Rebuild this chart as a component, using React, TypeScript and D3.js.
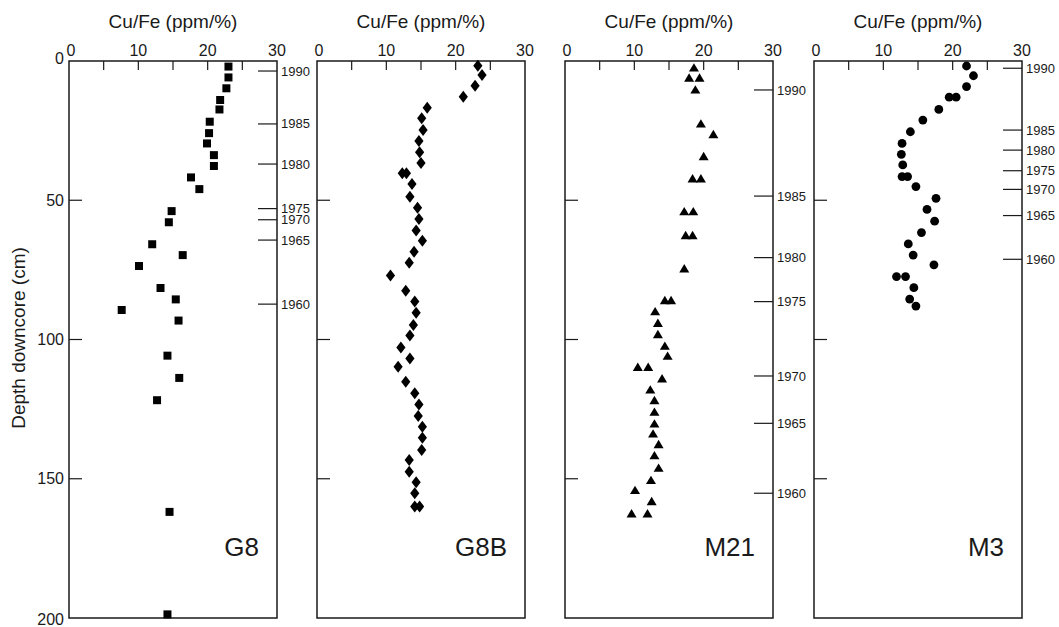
import React from "react";
import * as d3 from "d3";

// ---- Data (depth in cm, Cu/Fe in ppm/%) ----
const g8Depth = [2.0, 5.9, 9.8, 14.0, 17.4, 21.8, 25.9, 29.6, 33.8, 37.7, 41.8, 46.0, 53.9, 57.9, 65.8, 69.7, 73.6, 81.5, 85.6, 89.4, 93.2, 105.8, 113.8, 121.8, 161.9, 198.7];
const g8CuFe = [23.0, 23.0, 22.7, 21.8, 21.7, 20.3, 20.2, 19.9, 20.9, 20.9, 17.6, 18.8, 14.8, 14.4, 12.0, 16.4, 10.1, 13.2, 15.4, 7.6, 15.8, 14.2, 15.9, 12.7, 14.5, 14.2];

const g8bDepth = [1.7, 5.0, 8.9, 12.8, 16.8, 20.6, 24.8, 28.7, 32.8, 36.6, 40.3, 40.3, 44.2, 48.7, 52.7, 56.7, 60.9, 64.5, 68.5, 72.4, 77.0, 82.5, 86.4, 90.4, 94.8, 98.6, 102.9, 106.8, 109.8, 115.2, 119.3, 123.3, 127.5, 131.3, 135.3, 139.7, 143.3, 147.5, 151.3, 155.2, 160.0, 160.0];
const g8bCuFe = [23.2, 23.8, 22.8, 21.1, 15.9, 15.1, 15.3, 14.7, 14.8, 15.0, 12.3, 12.9, 13.7, 13.4, 14.5, 14.7, 14.3, 15.2, 14.0, 13.3, 10.6, 12.8, 14.1, 14.3, 13.9, 13.4, 12.1, 13.4, 11.7, 12.8, 14.1, 14.7, 14.6, 15.2, 15.2, 15.1, 13.3, 13.3, 14.3, 14.1, 14.1, 14.8];

const m21Depth = [2.3, 5.9, 5.9, 10.2, 22.4, 26.2, 34.1, 42.1, 42.1, 53.9, 53.9, 62.5, 62.5, 74.4, 85.8, 85.8, 89.8, 94.0, 98.0, 102.2, 105.8, 109.8, 109.8, 113.9, 117.9, 121.7, 125.9, 130.1, 133.7, 137.5, 141.5, 146.0, 150.4, 154.0, 158.0, 162.4, 162.4];
const m21CuFe = [18.6, 17.9, 19.4, 18.8, 19.6, 21.4, 20.0, 18.4, 19.6, 17.2, 18.5, 17.4, 18.4, 17.2, 14.4, 15.3, 13.0, 13.4, 13.4, 14.4, 14.8, 10.5, 12.0, 14.0, 12.3, 12.9, 12.9, 12.9, 12.7, 13.5, 12.9, 13.5, 12.4, 10.1, 12.5, 9.6, 11.9];

const m3Depth = [1.8, 5.3, 9.2, 13.0, 13.0, 17.4, 21.2, 25.4, 29.6, 33.5, 37.3, 41.5, 41.5, 45.1, 49.3, 53.3, 57.5, 61.6, 65.7, 69.7, 73.2, 77.4, 77.4, 81.4, 85.5, 88.0];
const m3CuFe = [22.0, 23.0, 22.0, 19.5, 20.5, 18.0, 15.7, 13.9, 12.7, 12.6, 12.8, 12.7, 13.5, 14.7, 17.6, 16.3, 17.4, 15.5, 13.6, 14.3, 17.3, 11.9, 13.2, 14.4, 13.8, 14.7];

// ---- Year (dating) markers ----
const years = [1990, 1985, 1980, 1975, 1970, 1965, 1960];
const g8YearDepth = [3.6, 22.6, 37.0, 53.0, 57.0, 64.3, 87.3];
const m21YearDepth = [10.4, 48.5, 70.6, 86.4, 113.1, 130.1, 155.2];
const m3YearDepth = [2.6, 24.8, 32.0, 39.4, 46.1, 55.5, 71.2];

// ---- Axis ticks ----
const xTickLabels = [0, 10, 20, 30];
const xMinorTicks = [5, 10, 15, 20, 25];
const depthTickLabels = [0, 50, 100, 150, 200];
const depthInnerTicks = [50, 100, 150];

const coreNames = ["G8", "G8B", "M21", "M3"];

type Marker = "square" | "diamond" | "triangle" | "circle";

const cores: { name: string; depth: number[]; val: number[]; marker: Marker; yearDepth: number[] | null }[] = [
  { name: coreNames[0], depth: g8Depth, val: g8CuFe, marker: "square", yearDepth: g8YearDepth },
  { name: coreNames[1], depth: g8bDepth, val: g8bCuFe, marker: "diamond", yearDepth: null },
  { name: coreNames[2], depth: m21Depth, val: m21CuFe, marker: "triangle", yearDepth: m21YearDepth },
  { name: coreNames[3], depth: m3Depth, val: m3CuFe, marker: "circle", yearDepth: m3YearDepth },
];

const FONT = "'Liberation Sans', Arial, Helvetica, sans-serif";
const INK = "#1a1a1a";

const panelLefts = [69, 317, 565, 814];
const panelW = 208;
const yScale = d3.scaleLinear().domain([0, 200]).range([61, 618]);

const diamondType = {
  draw(ctx: any, size: number) {
    const w = 4.6, h = 6;
    ctx.moveTo(0, -h);
    ctx.lineTo(w, 0);
    ctx.lineTo(0, h);
    ctx.lineTo(-w, 0);
    ctx.closePath();
  },
};
const triangleType = {
  draw(ctx: any, size: number) {
    const w = 5, h = 4.2;
    ctx.moveTo(0, -h);
    ctx.lineTo(w, h);
    ctx.lineTo(-w, h);
    ctx.closePath();
  },
};
const squareType = {
  draw(ctx: any, size: number) {
    ctx.rect(-4, -4, 8, 8);
  },
};
const circleType = {
  draw(ctx: any, size: number) {
    ctx.moveTo(4.4, 0);
    ctx.arc(0, 0, 4.4, 0, Math.PI * 2);
  },
};
const symbolFor: Record<Marker, any> = {
  square: squareType,
  diamond: diamondType,
  triangle: triangleType,
  circle: circleType,
};

function Panel({ idx }: { idx: number }) {
  const core = cores[idx];
  const left = panelLefts[idx];
  const x = d3.scaleLinear().domain([0, 30]).range([left, left + panelW]);
  const top = yScale(0);
  const bottom = yScale(200);
  const right = x(30);
  const sym = d3.symbol().type(symbolFor[core.marker])();
  return (
    <g>
      <text x={x(15)} y={28} textAnchor="middle" fontSize={19} fontFamily={FONT} fill={INK}>
        Cu/Fe (ppm/%)
      </text>
      {xTickLabels.map((t) => (
        <text key={"xl" + t} x={x(t) + (t === 0 ? 2 : 0)} y={56} textAnchor="middle" fontSize={16} fontFamily={FONT} fill={INK}>
          {t}
        </text>
      ))}
      {xMinorTicks.map((t) => (
        <line key={"xt" + t} x1={x(t)} x2={x(t)} y1={top} y2={top + 9} stroke={INK} strokeWidth={1.2} />
      ))}
      {depthInnerTicks.map((d) => (
        <line key={"yt" + d} x1={left} x2={left + 13} y1={yScale(d)} y2={yScale(d)} stroke={INK} strokeWidth={1.2} />
      ))}
      <rect x={left} y={top} width={panelW} height={bottom - top} fill="none" stroke={INK} strokeWidth={1.5} />
      {core.yearDepth &&
        core.yearDepth.map((d, i) => (
          <g key={"yr" + i}>
            <line x1={right - 19} x2={right} y1={yScale(d)} y2={yScale(d)} stroke={INK} strokeWidth={1.2} />
            <text x={right + 4} y={yScale(d)} dy="0.35em" fontSize={13} fontFamily={FONT} fill={INK}>
              {years[i]}
            </text>
          </g>
        ))}
      {core.depth.map((d, i) => (
        <path key={"p" + i} d={sym || ""} transform={`translate(${x(core.val[i])},${yScale(d)})`} fill="#000" />
      ))}
      <text x={right - 18} y={556} textAnchor="end" fontSize={26} fontFamily={FONT} fill={INK}>
        {core.name}
      </text>
    </g>
  );
}

export default function App() {
  return (
    <svg width={1059} height={627} style={{ position: "absolute", left: 0, top: 0, background: "#fff" }}>
      <rect x={0} y={0} width={1059} height={627} fill="#fff" />
      {depthTickLabels.map((d) => (
        <text key={"dl" + d} x={64} y={yScale(d)} dy={d === 0 ? "0.2em" : d === 200 ? "0.45em" : "0.35em"} textAnchor="end" fontSize={16} fontFamily={FONT} fill={INK}>
          {d}
        </text>
      ))}
      <text transform={`translate(18,${338}) rotate(-90)`} textAnchor="middle" dy="0.35em" fontSize={19} fontFamily={FONT} fill={INK}>
        Depth downcore (cm)
      </text>
      {cores.map((c, i) => (
        <Panel key={c.name} idx={i} />
      ))}
    </svg>
  );
}
